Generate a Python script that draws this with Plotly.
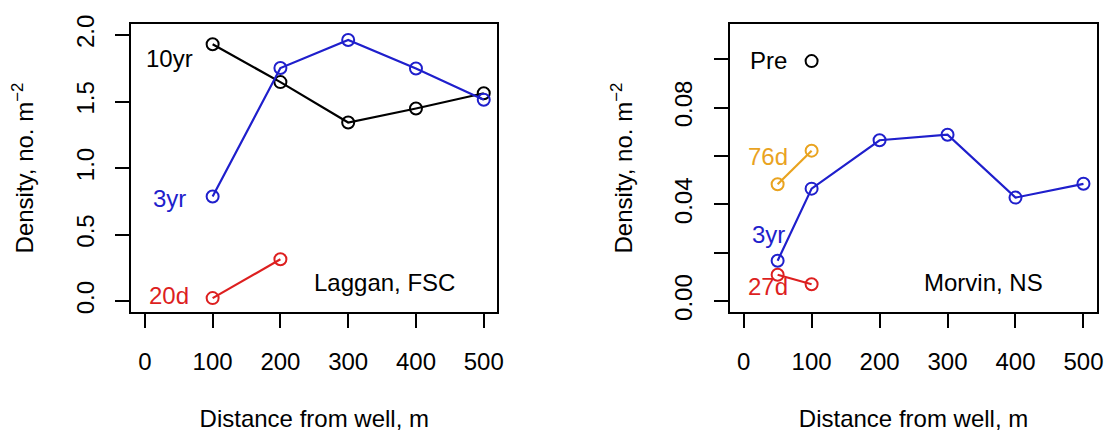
import plotly.graph_objects as go

# ---------------- data ----------------
# Left panel: Laggan, FSC
lag_x = [100, 200, 300, 400, 500]
lag_10yr = [1.93, 1.646, 1.342, 1.448, 1.562]
lag_3yr = [0.786, 1.752, 1.962, 1.748, 1.513]
lag_20d_x = [100, 200]
lag_20d = [0.023, 0.315]

# Right panel: Morvin, NS
mor_x = [50, 100, 200, 300, 400, 500]
mor_3yr = [0.0167, 0.0465, 0.0665, 0.0688, 0.0428, 0.0485]
mor_pre_x = [100]
mor_pre = [0.0992]
mor_76d_x = [50, 100]
mor_76d = [0.0483, 0.0622]
mor_27d_x = [50, 100]
mor_27d = [0.0109, 0.0070]

# label texts and anchor points (data coords)
lag_labels = ["10yr", "3yr", "20d"]
lag_label_y = [1.82, 0.77, 0.04]
mor_labels = ["Pre", "76d", "3yr", "27d"]
mor_label_y = [0.0995, 0.0597, 0.0277, 0.0059]
label_x = 36

x_ticks = [0, 100, 200, 300, 400, 500]
lag_yticks = [0.0, 0.5, 1.0, 1.5, 2.0]
lag_yticktext = ["0.0", "0.5", "1.0", "1.5", "2.0"]
mor_yticks = [0.0, 0.04, 0.08]
mor_yticktext = ["0.00", "0.04", "0.08"]
mor_yticks_unlabelled = [0.02, 0.06, 0.10]

BLACK = "#000000"
BLUE = "#1F1FCC"
RED = "#DD1F1F"
ORANGE = "#E9A31F"
FONT = "Liberation Sans, Arial, sans-serif"
FS = 24

fig = go.Figure()


def add_series(x, y, color, xa, ya, mode="lines+markers"):
    fig.add_trace(go.Scatter(
        x=x, y=y, mode=mode, xaxis=xa, yaxis=ya, showlegend=False,
        line=dict(color=color, width=2.2),
        marker=dict(symbol="circle-open", size=12, color=color,
                    line=dict(color=color, width=2)),
    ))


add_series(lag_x, lag_10yr, BLACK, "x", "y")
add_series(lag_x, lag_3yr, BLUE, "x", "y")
add_series(lag_20d_x, lag_20d, RED, "x", "y")

add_series(mor_pre_x, mor_pre, BLACK, "x2", "y2", mode="markers")
add_series(mor_76d_x, mor_76d, ORANGE, "x2", "y2")
add_series(mor_x, mor_3yr, BLUE, "x2", "y2")
add_series(mor_27d_x, mor_27d, RED, "x2", "y2")

annotations = []
for t, yv, c in zip(lag_labels, lag_label_y, [BLACK, BLUE, RED]):
    annotations.append(dict(x=label_x, y=yv, xref="x", yref="y", text=t,
                            showarrow=False, font=dict(size=FS, color=c, family=FONT)))
for t, yv, c in zip(mor_labels, mor_label_y, [BLACK, ORANGE, BLUE, RED]):
    annotations.append(dict(x=label_x, y=yv, xref="x2", yref="y2", text=t,
                            showarrow=False, font=dict(size=FS, color=c, family=FONT)))
annotations.append(dict(x=353, y=0.141, xref="x", yref="y", text="Laggan, FSC",
                        showarrow=False, font=dict(size=FS, color=BLACK, family=FONT)))
annotations.append(dict(x=353, y=0.0079, xref="x2", yref="y2", text="Morvin, NS",
                        showarrow=False, font=dict(size=FS, color=BLACK, family=FONT)))

common_x = dict(range=[-20, 520], tickvals=x_ticks, ticks="outside", ticklen=14,
                tickwidth=2, tickcolor="black", showline=True, linecolor="black",
                linewidth=2, mirror=True, showgrid=False, zeroline=False,
                tickfont=dict(size=FS, family=FONT, color="black"),
                ticklabelstandoff=13,
                title=dict(text="Distance from well, m", standoff=38,
                           font=dict(size=FS, family=FONT, color="black")))
common_y = dict(ticks="outside", ticklen=14, tickwidth=2, tickcolor="black",
                showline=True, linecolor="black", linewidth=2, mirror=True,
                showgrid=False, zeroline=False, tickangle=-90,
                tickfont=dict(size=FS, family=FONT, color="black"),
                ticklabelstandoff=12,
                title=dict(text="Density, no. m<sup>\u22122</sup>", standoff=31,
                           font=dict(size=FS, family=FONT, color="black")))

fig.update_layout(
    width=1114, height=432,
    margin=dict(l=0, r=0, t=0, b=0),
    paper_bgcolor="white", plot_bgcolor="white",
    font=dict(family=FONT, color="black"),
    xaxis=dict(domain=[132 / 1114, 500 / 1114], anchor="y", **common_x),
    yaxis=dict(domain=[1 - 316 / 432, 1 - 16 / 432], anchor="x",
               range=[-0.08, 2.08], tickvals=lag_yticks, ticktext=lag_yticktext,
               **common_y),
    xaxis2=dict(domain=[734 / 1114, 1103 / 1114], anchor="y2", **common_x),
    yaxis2=dict(domain=[1 - 316 / 432, 1 - 16 / 432], anchor="x2",
                range=[-0.0044, 0.1144], tickvals=mor_yticks, ticktext=mor_yticktext,
                minor=dict(tickvals=mor_yticks_unlabelled, ticks="outside", ticklen=14,
                           tickwidth=2, tickcolor="black", showgrid=False),
                **common_y),
    annotations=annotations,
)

fig.write_html("out.html", config={"displayModeBar": False},
               post_script="document.body.style.margin='0';document.body.style.overflow='hidden';")
